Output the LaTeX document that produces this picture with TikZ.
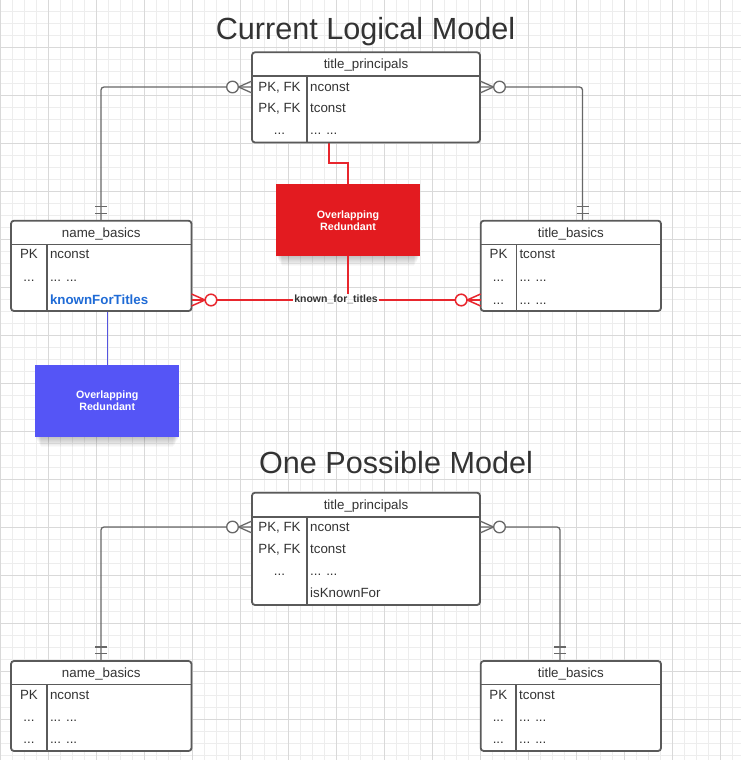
\documentclass[tikz,border=0pt]{standalone}
\usepackage{fontspec}
\setmainfont{Liberation Sans}
\usetikzlibrary{calc}
\definecolor{txt}{HTML}{333333}
\definecolor{bord}{HTML}{5A5A5A}
\definecolor{connc}{HTML}{686868}
\definecolor{gridmin}{HTML}{EDEDED}
\definecolor{gridmaj}{HTML}{D9D9D9}
\definecolor{redc}{HTML}{E31B20}
\definecolor{redl}{HTML}{E8262D}
\definecolor{bluec}{HTML}{5555F6}
\definecolor{bluel}{HTML}{5555E0}
\definecolor{kftc}{HTML}{1F6BD6}
\pgfdeclarelayer{gridlayer}
\pgfdeclarelayer{shadowlayer}
\pgfsetlayers{gridlayer,shadowlayer,main}

\newcommand\ertbl[8]{%
  \pgfmathsetmacro\ertw{#4-#2}\pgfmathsetmacro\erth{#5-#3}%
  \pgfmathsetmacro\ercx{(#2+#4)/2}\pgfmathsetmacro\erhb{(#3+#6)/2+4.75}%
  \node[tbl, anchor=north west, minimum width=\ertw pt, minimum height=\erth pt] (#1) at (#2,#3) {};
  \draw[sep] (#2,#6) -- (#4,#6);
  \draw[sep] (#7,#6) -- (#7,#5);
  \node[cell] (#1-h) at (\ercx,\erhb) {#8};
}
\newcommand\ertrow[6]{%
  \node[cell] (#1k) at (#2,#4) {#5};
  \node[valc] (#1v) at (#3,#4) {#6};
}
\newcommand\zmany[3]{%
  \draw[#3] ($(#1)+(#2*13.5,0)$) -- ($(#1)+(0,-6)$) ($(#1)+(#2*13.5,0)$) -- ($(#1)+(0,6)$);
  \draw[#3, fill=white] ($(#1)+(#2*19.5,0)$) circle[radius=5.8];
}
\newcommand\onebars[1]{%
  \draw[conn] ($(#1)+(-6,-14)$) -- ++(12,0) ($(#1)+(-6,-7.5)$) -- ++(12,0);
}
\newcommand\softshadow[1]{%
  \begin{pgfonlayer}{shadowlayer}
  \foreach \k in {1,...,10}{\fill[black, opacity=0.022] ($(#1.south west)+(\k*0.6,-20)$) rectangle ($(#1.south east)+(-\k*0.6,\k)$);}
  \end{pgfonlayer}
}

\begin{document}
\begin{tikzpicture}[x=1pt,y=-1pt,
  tbl/.style={draw=bord, line width=1.8pt, rounded corners=3pt, fill=white, inner sep=0pt, outer sep=0pt},
  sep/.style={draw=bord, line width=1.6pt},
  cell/.style={inner sep=0pt, text=txt, font=\fontsize{13.33}{16}\selectfont, anchor=base},
  valc/.style={cell, anchor=base west},
  conn/.style={draw=connc, line width=1.3pt},
  rconn/.style={draw=redl, line width=1.5pt},
  bconn/.style={draw=bluel, line width=1.2pt},
  note/.style={minimum width=144pt, minimum height=71.7pt, inner sep=0pt, text=white, align=center,
     font=\fontsize{10.67}{12}\selectfont\bfseries},
  ttl/.style={font=\fontsize{30.6}{36}\selectfont, text=txt, anchor=base, inner sep=0pt}
]
\useasboundingbox (0,0) rectangle (741,760);
\begin{pgfonlayer}{gridlayer}
\fill[white] (0,0) rectangle (741,760);
\foreach \i in {0,...,62}{\draw[gridmin, line width=0.9pt] (\i*12+0.5,0) -- (\i*12+0.5,760);}
\foreach \i in {0,...,64}{\draw[gridmin, line width=0.9pt] (0,\i*12-0.7) -- (741,\i*12-0.7);}
\foreach \i in {0,...,15}{\draw[gridmaj, line width=0.9pt] (\i*48+0.5,0) -- (\i*48+0.5,760);}
\foreach \i in {0,...,16}{\draw[gridmaj, line width=0.9pt] (0,\i*48-0.7) -- (741,\i*48-0.7);}
\end{pgfonlayer}

% titles
\node[ttl] (title1) at (365.5,39.5) {Current Logical Model};
\node[ttl] (title2) at (396,473) {One Possible Model};

% ===== top model =====
\coordinate (tp1-l) at (252,87);
\coordinate (tp1-r) at (480,87);
\coordinate (nb1-t) at (101,220.7);
\coordinate (tb1-t) at (582.5,220.7);
\coordinate (nb1-kft) at (191.5,300);
\coordinate (tb1-kft) at (480.7,300);
\coordinate (tp1-b) at (329,142.5);
\coordinate (nb1-b) at (107.2,311);

\draw[conn, rounded corners=3pt] (tp1-l) -| (nb1-t);
\draw[conn, rounded corners=3pt] (tp1-r) -| (tb1-t);

% relationship label
\node[inner sep=0pt, text=txt, font=\fontsize{10.5}{12}\selectfont\bfseries] (kft) at (336,299) {known\_for\_titles};

% red note
\node[note, fill=redc] (rbox) at (348,220.2) {Overlapping\\Redundant};
\softshadow{rbox}
\draw[rconn] (tp1-b) -- (329,163) -- (348,163) -- (rbox.north);
\draw[rconn] (rbox.south) -- (rbox.south |- kft.north);

% blue note
\node[note, fill=bluec] (bbox) at (107.2,401) {Overlapping\\Redundant};
\softshadow{bbox}
\draw[bconn] (nb1-b) -- (bbox.north);

% tables
\ertbl{tp1}{252}{52.3}{480}{142.5}{75.7}{307}{title\_principals}
\ertrow{tp1r1}{279.5}{310}{91.2}{PK, FK}{nconst}
\ertrow{tp1r2}{279.5}{310}{112.9}{PK, FK}{tconst}
\ertrow{tp1r3}{279.5}{310}{134.6}{...}{... ...}

\ertbl{nb1}{11}{220.7}{191.5}{311}{244.3}{46.7}{name\_basics}
\ertrow{nb1r1}{28.9}{49.8}{258.8}{PK}{nconst}
\ertrow{nb1r2}{28.9}{49.8}{281.4}{...}{... ...}
\node[valc, text=kftc, font=\fontsize{13.33}{16}\selectfont\bfseries] (nb1r3v) at (49.8,304) {knownForTitles};

\ertbl{tb1}{480.7}{220.7}{661}{311}{244.3}{516.3}{title\_basics}
\ertrow{tb1r1}{498.5}{519.3}{258.8}{PK}{tconst}
\ertrow{tb1r2}{498.5}{519.3}{281.4}{...}{... ...}
\ertrow{tb1r3}{498.5}{519.3}{304}{...}{... ...}

% red relationship line
\draw[draw=redl, line width=2pt] (nb1-kft) -- ($(nb1-kft -| kft.west)+(-1,0)$);
\draw[draw=redl, line width=2pt] ($(nb1-kft -| kft.east)+(1,0)$) -- (tb1-kft);

\zmany{tp1-l}{-1}{conn}
\zmany{tp1-r}{1}{conn}
\zmany{nb1-kft}{1}{rconn}
\zmany{tb1-kft}{-1}{rconn}
\onebars{nb1-t}
\onebars{tb1-t}

% ===== bottom model =====
\coordinate (tp2-l) at (252,527);
\coordinate (tp2-r) at (480,527);
\coordinate (nb2-t) at (101,661);
\coordinate (tb2-t) at (560,661);
\draw[conn, rounded corners=3pt] (tp2-l) -| (nb2-t);
\draw[conn, rounded corners=3pt] (tp2-r) -| (tb2-t);

\ertbl{tp2}{252}{492.7}{480}{605}{516.7}{307}{title\_principals}
\ertrow{tp2r1}{279.5}{310}{531.3}{PK, FK}{nconst}
\ertrow{tp2r2}{279.5}{310}{553.2}{PK, FK}{tconst}
\ertrow{tp2r3}{279.5}{310}{575.2}{...}{... ...}
\node[valc] (tp2r4v) at (310,597.6) {isKnownFor};

\ertbl{nb2}{11}{661}{191.5}{751}{684.3}{46.7}{name\_basics}
\ertrow{nb2r1}{28.9}{49.8}{699}{PK}{nconst}
\ertrow{nb2r2}{28.9}{49.8}{721.3}{...}{... ...}
\ertrow{nb2r3}{28.9}{49.8}{743}{...}{... ...}

\ertbl{tb2}{480.7}{661}{661}{751}{684.3}{516}{title\_basics}
\ertrow{tb2r1}{498.3}{519}{699}{PK}{tconst}
\ertrow{tb2r2}{498.3}{519}{721.3}{...}{... ...}
\ertrow{tb2r3}{498.3}{519}{743}{...}{... ...}

\zmany{tp2-l}{-1}{conn}
\zmany{tp2-r}{1}{conn}
\onebars{nb2-t}
\onebars{tb2-t}
\end{tikzpicture}
\end{document}
